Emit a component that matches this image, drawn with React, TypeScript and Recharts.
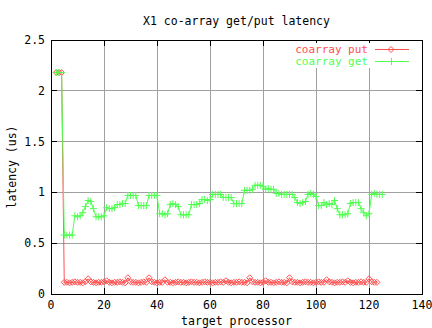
import React from "react";
import {
  LineChart,
  Line,
  XAxis,
  YAxis,
  CartesianGrid,
  ReferenceArea,
  Legend,
} from "recharts";

// target processor numbers
const processors = [
  2, 3, 4, 5, 6, 7, 8, 9, 10, 11, 12, 13, 14, 15, 16, 17, 18, 19, 20, 21, 22,
  23, 24, 25, 26, 27, 28, 29, 30, 31, 32, 33, 34, 35, 36, 37, 38, 39, 40, 41,
  42, 43, 44, 45, 46, 47, 48, 49, 50, 51, 52, 53, 54, 55, 56, 57, 58, 59, 60,
  61, 62, 63, 64, 65, 66, 67, 68, 69, 70, 71, 72, 73, 74, 75, 76, 77, 78, 79,
  80, 81, 82, 83, 84, 85, 86, 87, 88, 89, 90, 91, 92, 93, 94, 95, 96, 97, 98,
  99, 100, 101, 102, 103, 104, 105, 106, 107, 108, 109, 110, 111, 112, 113,
  114, 115, 116, 117, 118, 119, 120, 121, 122, 123, 124, 125,
];

// latency in microseconds
const putLatency = [
  2.18, 2.18, 2.18, 0.115, 0.115, 0.11, 0.115, 0.12, 0.115, 0.115, 0.11, 0.12,
  0.15, 0.12, 0.115, 0.11, 0.115, 0.115, 0.12, 0.13, 0.115, 0.11, 0.115, 0.115,
  0.12, 0.115, 0.11, 0.16, 0.12, 0.115, 0.115, 0.11, 0.115, 0.12, 0.115, 0.16,
  0.12, 0.115, 0.11, 0.115, 0.115, 0.14, 0.115, 0.115, 0.11, 0.115, 0.12,
  0.115, 0.115, 0.11, 0.115, 0.12, 0.115, 0.115, 0.11, 0.115, 0.12, 0.115,
  0.115, 0.11, 0.115, 0.115, 0.12, 0.115, 0.13, 0.115, 0.11, 0.115, 0.115,
  0.12, 0.115, 0.115, 0.11, 0.16, 0.12, 0.115, 0.115, 0.11, 0.115, 0.13,
  0.115, 0.115, 0.11, 0.115, 0.12, 0.115, 0.115, 0.11, 0.16, 0.12, 0.115,
  0.115, 0.11, 0.115, 0.12, 0.115, 0.115, 0.11, 0.115, 0.12, 0.115, 0.115,
  0.14, 0.12, 0.115, 0.11, 0.115, 0.115, 0.12, 0.115, 0.13, 0.115, 0.11,
  0.115, 0.115, 0.12, 0.115, 0.115, 0.15, 0.12, 0.115, 0.115,
];

const getLatency = [
  2.18, 2.18, 2.18, 0.58, 0.58, 0.58, 0.58, 0.77, 0.76, 0.77, 0.8, 0.86, 0.92,
  0.91, 0.84, 0.76, 0.76, 0.76, 0.77, 0.85, 0.84, 0.84, 0.85, 0.88, 0.88,
  0.89, 0.89, 0.97, 0.97, 0.97, 0.97, 0.87, 0.87, 0.87, 0.87, 0.97, 0.97,
  0.97, 0.97, 0.79, 0.79, 0.78, 0.79, 0.88, 0.89, 0.88, 0.86, 0.78, 0.78,
  0.78, 0.78, 0.88, 0.88, 0.88, 0.89, 0.93, 0.93, 0.92, 0.93, 0.98, 0.98,
  0.98, 0.98, 0.95, 0.95, 0.95, 0.95, 0.89, 0.89, 0.89, 0.89, 1.02, 1.02,
  1.02, 1.03, 1.07, 1.07, 1.07, 1.06, 1.03, 1.04, 1.03, 1.03, 0.99, 0.99,
  0.98, 0.98, 0.98, 0.98, 0.98, 0.95, 0.9, 0.89, 0.9, 0.91, 0.98, 0.99,
  0.98, 0.96, 0.87, 0.87, 0.9, 0.88, 0.89, 0.88, 0.92, 0.84, 0.78, 0.78,
  0.78, 0.79, 0.89, 0.9, 0.9, 0.9, 0.84, 0.8, 0.77, 0.79, 0.98, 0.99, 0.98,
  0.98, 0.98,
];

const xTicks = [0, 20, 40, 60, 80, 100, 120, 140];
const yTicks = [0, 0.5, 1, 1.5, 2, 2.5];

const data = processors.map((p, i) => ({
  proc: p,
  put: putLatency[i],
  get: getLatency[i],
}));

const RED = "#ff5050";
const GREEN = "#50ff50";
const FONT = "'DejaVu Sans Mono', monospace";
const W = 432;
const H = 328;
// plot frame (gnuplot-like layout)
const TOP = 40;
const BOTTOM = 294;
const LEFT = 51;
const RIGHT = 422;
const TICK = 6;

function XTick({ x, payload }: any) {
  return (
    <g>
      <line x1={x} x2={x} y1={BOTTOM} y2={BOTTOM - TICK} stroke="#000" shapeRendering="crispEdges" />
      <line x1={x} x2={x} y1={TOP} y2={TOP + TICK} stroke="#000" shapeRendering="crispEdges" />
      <text
        x={x}
        y={BOTTOM + 11}
        textAnchor="middle"
        dominantBaseline="central"
        fontFamily={FONT}
        fontSize={11.5}
        fill="#000"
      >
        {payload.value}
      </text>
    </g>
  );
}

function YTick({ y, payload }: any) {
  return (
    <g>
      <line x1={LEFT} x2={LEFT + TICK} y1={y} y2={y} stroke="#000" shapeRendering="crispEdges" />
      <line x1={RIGHT} x2={RIGHT - TICK} y1={y} y2={y} stroke="#000" shapeRendering="crispEdges" />
      <text
        x={LEFT - 6}
        y={y}
        textAnchor="end"
        dominantBaseline="central"
        fontFamily={FONT}
        fontSize={11.5}
        fill="#000"
      >
        {payload.value}
      </text>
    </g>
  );
}

const renderDiamond = (props: any) => {
  const { cx, cy, index } = props;
  if (cx == null || cy == null) return <g key={`pd-${index}`} />;
  return (
    <path
      key={`pd-${index}`}
      d={`M${cx - 3},${cy} L${cx},${cy - 3} L${cx + 3},${cy} L${cx},${cy + 3} Z`}
      fill="none"
      stroke={RED}
      strokeWidth={1}
    />
  );
};

const renderPlus = (props: any) => {
  const { cx, cy, index } = props;
  if (cx == null || cy == null) return <g key={`gp-${index}`} />;
  return (
    <path
      key={`gp-${index}`}
      d={`M${cx - 3.5},${cy} H${cx + 3.5} M${cx},${cy - 3.5} V${cy + 3.5}`}
      stroke={GREEN}
      strokeWidth={1}
      fill="none"
    />
  );
};

function LegendBox() {
  const rows = [
    { label: "coarray put", color: RED, y: 6.5, mark: "diamond" },
    { label: "coarray get", color: GREEN, y: 18.5, mark: "plus" },
  ];
  return (
    <svg width={128} height={25} style={{ display: "block", overflow: "visible" }}>
      {rows.map((r) => (
        <g key={r.label}>
          <text
            x={80}
            y={r.y}
            textAnchor="end"
            dominantBaseline="central"
            fontFamily={FONT}
            fontSize={11}
            fill={r.color}
          >
            {r.label}
          </text>
          <line x1={87} x2={121} y1={r.y} y2={r.y} stroke={r.color} />
          {r.mark === "diamond" ? (
            <path
              d={`M100,${r.y} L103,${r.y - 3} L106,${r.y} L103,${r.y + 3} Z`}
              fill="none"
              stroke={r.color}
            />
          ) : (
            <path d={`M103.5,${r.y - 3.5} V${r.y + 3.5}`} stroke={r.color} />
          )}
        </g>
      ))}
    </svg>
  );
}

export default function App() {
  return (
    <div style={{ position: "absolute", left: 0, top: 0, width: W, height: H, background: "#fff" }}>
      <LineChart
        width={W}
        height={H}
        data={data}
        margin={{ top: TOP, right: W - RIGHT, bottom: 0, left: 0 }}
      >
        <CartesianGrid stroke="#a0a0a0" shapeRendering="crispEdges" />
        <XAxis
          dataKey="proc"
          type="number"
          domain={[0, 140]}
          ticks={xTicks}
          interval={0}
          height={H - BOTTOM}
          tickLine={false}
          axisLine={false}
          tickSize={0}
          tick={<XTick />}
        />
        <YAxis
          type="number"
          domain={[0, 2.5]}
          ticks={yTicks}
          interval={0}
          width={LEFT}
          tickLine={false}
          axisLine={false}
          tickSize={0}
          tick={<YTick />}
        />
        <ReferenceArea
          x1={0}
          x2={140}
          y1={0}
          y2={2.5}
          fill="none"
          fillOpacity={0}
          stroke="#000"
          strokeOpacity={1}
          shapeRendering="crispEdges"
        />
        <Legend
          content={<LegendBox />}
          layout="horizontal"
          verticalAlign="middle"
          align="center"
          wrapperStyle={{ left: 288, top: 43, width: 128, height: 25, background: "#fff" }}
        />
        <Line
          type="linear"
          dataKey="put"
          stroke={RED}
          strokeWidth={1}
          dot={renderDiamond}
          activeDot={false}
          isAnimationActive={false}
        />
        <Line
          type="linear"
          dataKey="get"
          stroke={GREEN}
          strokeWidth={1}
          dot={renderPlus}
          activeDot={false}
          isAnimationActive={false}
        />
        <text
          x={(LEFT + RIGHT) / 2}
          y={21}
          textAnchor="middle"
          dominantBaseline="central"
          fontFamily={FONT}
          fontSize={11.5}
          fill="#000"
        >
          X1 co-array get/put latency
        </text>
        <text
          x={(LEFT + RIGHT) / 2}
          y={321}
          textAnchor="middle"
          dominantBaseline="central"
          fontFamily={FONT}
          fontSize={11.5}
          fill="#000"
        >
          target processor
        </text>
        <text
          x={12}
          y={(TOP + BOTTOM) / 2}
          textAnchor="middle"
          dominantBaseline="central"
          fontFamily={FONT}
          fontSize={11.5}
          fill="#000"
          transform={`rotate(-90 12 ${(TOP + BOTTOM) / 2})`}
        >
          latency (us)
        </text>
      </LineChart>
    </div>
  );
}
